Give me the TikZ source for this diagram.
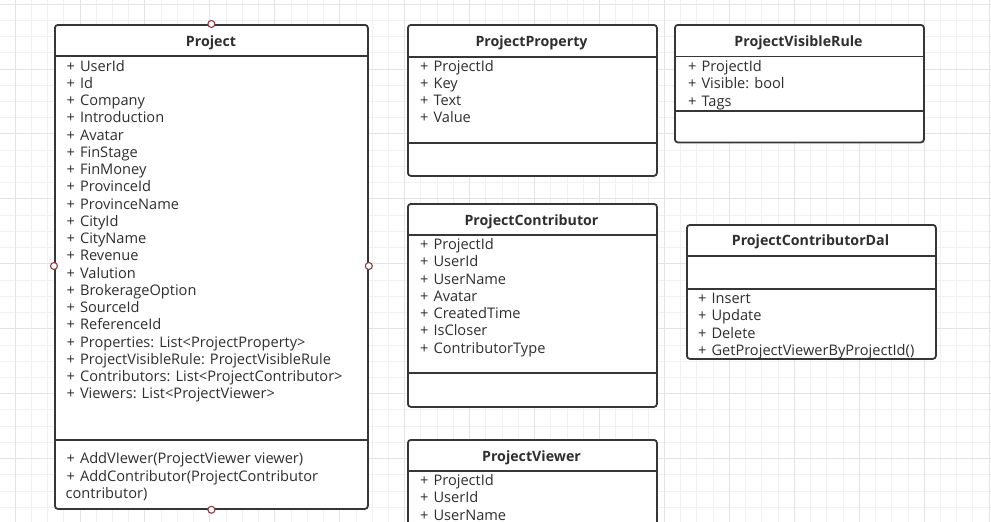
\documentclass[tikz,border=0pt]{standalone}
\usepackage{fontspec}
\setmainfont{Open Sans}
\definecolor{gridmin}{HTML}{F1F1F1}
\definecolor{gridmaj}{HTML}{E3E3E3}
\definecolor{edge}{HTML}{363636}
\definecolor{txt}{HTML}{2E2E2E}
\definecolor{portc}{HTML}{8E3B46}
\newcommand{\plusitem}[1]{+\hspace{5pt}#1}
\tikzset{
 classbox/.style={draw=edge, line width=1.8pt, rounded corners=3pt, fill=white, inner sep=0pt, anchor=north west},
 sepline/.style={draw=edge, line width=1.8pt},
 attr/.style={anchor=base west, inner sep=0pt, text=txt, font=\fontsize{14.6}{17}\selectfont},
 ctitle/.style={anchor=base, inner sep=0pt, text=txt, font=\fontsize{14.2}{17}\selectfont\bfseries},
 portnode/.style={circle, draw=portc, fill=white, line width=1.1pt, minimum size=7pt, inner sep=0pt},
 gminor/.style={draw=gridmin, line width=0.8pt},
 gmajor/.style={draw=gridmaj, line width=0.8pt},
}
\begin{document}
\begin{tikzpicture}[x=1pt,y=-1pt]
\useasboundingbox (0,0) rectangle (991,522);
\clip (0,0) rectangle (991,522);
\fill[white] (0,0) rectangle (991,522);
% grid
\foreach \k in {0,...,60} \draw[gminor] ({15+16.235*\k},0) -- ++(0,522);
\foreach \k in {0,...,32} \draw[gminor] (0,{4+16.235*\k}) -- ++(991,0);
\foreach \k in {0,...,15} \draw[gmajor] ({15+64.94*\k},0) -- ++(0,522);
\foreach \k in {0,...,8} \draw[gmajor] (0,{4+64.94*\k}) -- ++(991,0);

% Project
\node[classbox, minimum width=313pt, minimum height=484pt] (project) at (54,24) {};
\draw[sepline] (project.west |- 0,56) -- (project.east |- 0,56);
\draw[sepline] (project.west |- 0,440) -- (project.east |- 0,440);
\node[ctitle] (projectT) at (211,46) {Project};
\foreach \t [count=\i from 0] in {UserId,Id,Company,Introduction,Avatar,FinStage,FinMoney,ProvinceId,ProvinceName,CityId,CityName,Revenue,Valution,BrokerageOption,SourceId,ReferenceId,Properties: List<ProjectProperty>,ProjectVisibleRule: ProjectVisibleRule,Contributors: List<ProjectContributor>,Viewers: List<ProjectViewer>}
  \node[attr] (pa\i) at (66.5,{71+17.26*\i}) {\plusitem{\t}};
\node[attr] (pm0) at (66.5,463.5) {\plusitem{AddVIewer(ProjectViewer viewer)}};
\node[attr] (pm1) at (66.5,481) {\plusitem{AddContributor(ProjectContributor}};
\node[attr] (pm2) at (65.5,498) {contributor)};
\node[portnode] (portN) at (project.north) {};
\node[portnode] (portS) at (project.south) {};
\node[portnode] (portW) at (project.west |- 0,266) {};
\node[portnode] (portE) at (project.east |- 0,266) {};

% ProjectProperty
\node[classbox, minimum width=249pt, minimum height=151pt] (prop) at (407,24) {};
\draw[sepline] (prop.west |- 0,57) -- (prop.east |- 0,57);
\draw[sepline] (prop.west |- 0,143) -- (prop.east |- 0,143);
\node[ctitle] (propT) at (531.5,46.5) {ProjectProperty};
\foreach \t [count=\i from 0] in {ProjectId,Key,Text,Value}
  \node[attr] (ppa\i) at (420,{71+17.26*\i}) {\plusitem{\t}};

% ProjectVisibleRule
\node[classbox, minimum width=249pt, minimum height=117.5pt] (rule) at (674,24) {};
\draw[sepline] (rule.west |- 0,56.5) -- (rule.east |- 0,56.5);
\draw[sepline] (rule.west |- 0,111) -- (rule.east |- 0,111);
\node[ctitle] (ruleT) at (798.5,46) {ProjectVisibleRule};
\foreach \t [count=\i from 0] in {ProjectId,Visible: bool,Tags}
  \node[attr] (pra\i) at (688,{71.5+17.26*\i}) {\plusitem{\t}};

% ProjectContributor
\node[classbox, minimum width=249pt, minimum height=203pt] (contr) at (407,203) {};
\draw[sepline] (contr.west |- 0,235) -- (contr.east |- 0,235);
\draw[sepline] (contr.west |- 0,373) -- (contr.east |- 0,373);
\node[ctitle] (contrT) at (531.5,225) {ProjectContributor};
\foreach \t [count=\i from 0] in {ProjectId,UserId,UserName,Avatar,CreatedTime,IsCloser,ContributorType}
  \node[attr] (pca\i) at (420,{249.5+17.26*\i}) {\plusitem{\t}};

% ProjectContributorDal
\node[classbox, minimum width=249pt, minimum height=134pt] (dal) at (686,224) {};
\draw[sepline] (dal.west |- 0,256) -- (dal.east |- 0,256);
\draw[sepline] (dal.west |- 0,289) -- (dal.east |- 0,289);
\node[ctitle] (dalT) at (810.5,245.5) {ProjectContributorDal};
\foreach \t [count=\i from 0] in {Insert,Update,Delete,GetProjectViewerByProjectId()}
  \node[attr] (pdm\i) at (698,{303.5+17.26*\i}) {\plusitem{\t}};

% ProjectViewer
\node[classbox, minimum width=249pt, minimum height=140pt] (viewer) at (407,439) {};
\draw[sepline] (viewer.west |- 0,471) -- (viewer.east |- 0,471);
\node[ctitle] (viewerT) at (531.5,461) {ProjectViewer};
\foreach \t [count=\i from 0] in {ProjectId,UserId,UserName}
  \node[attr] (pva\i) at (420,{485.5+17.26*\i}) {\plusitem{\t}};
\end{tikzpicture}
\end{document}
